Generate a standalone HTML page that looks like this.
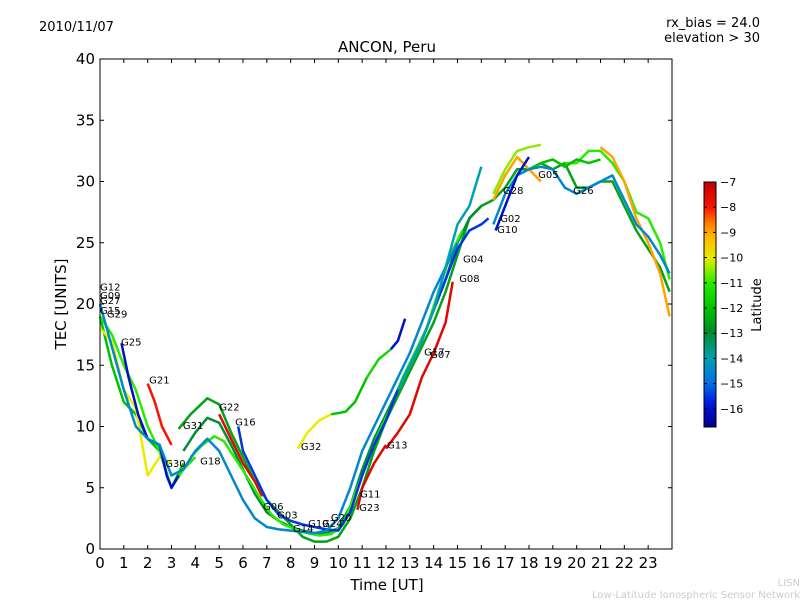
<!DOCTYPE html>
<html><head><meta charset="utf-8"><style>
body{margin:0;background:#fff;font-family:"DejaVu Sans","Liberation Sans",sans-serif;}
svg text{font-family:"DejaVu Sans","Liberation Sans",sans-serif;}
</style></head><body>
<svg id="chart" width="800" height="600" viewBox="0 0 800 600">
<rect width="800" height="600" fill="#fff"/>
<text x="39" y="31" font-size="13">2010/11/07</text>
<text x="760" y="27" font-size="13" text-anchor="end">rx_bias = 24.0</text>
<text x="760" y="42" font-size="13" text-anchor="end">elevation &gt; 30</text>
<text x="387" y="52" font-size="15" text-anchor="middle">ANCON, Peru</text>
<g id="plot"></g>
<g id="axes"></g>
<text x="387" y="590" font-size="15" text-anchor="middle">Time [UT]</text>
<text x="0" y="0" font-size="15" text-anchor="middle" transform="translate(66,304) rotate(-90)">TEC [UNITS]</text>
<defs><linearGradient id="jet" x1="0" y1="0" x2="0" y2="1" id2="g"></linearGradient></defs>
<rect x="704" y="182" width="12" height="245" fill="url(#jet)" stroke="#000"/>
<g id="cbticks"></g>
<text x="0" y="0" font-size="13" text-anchor="middle" transform="translate(761,305) rotate(-90)">Latitude</text>
<text x="800" y="586" font-size="10" fill="#ccc" text-anchor="end">LISN</text>
<text x="800" y="598" font-size="10" fill="#ccc" text-anchor="end">Low-Latitude Ionospheric Sensor Network</text>
</svg>
<script>
const xTicks=[0,1,2,3,4,5,6,7,8,9,10,11,12,13,14,15,16,17,18,19,20,21,22,23];
const yTicks=[0,5,10,15,20,25,30,35,40];
const cbTicks=[-7,-8,-9,-10,-11,-12,-13,-14,-15,-16];
const seriesLat=[-12,-10,-11,-16,-8,-12.5,-13,-11,-7.5,-15.5,-14.5,-10,-12,-11.5,-16,-14,-7.5,-10.5,-9,-11,-9,-12,-14.5,-16,-7.5];
const seriesT=[
[0,0.5,1,1.5,2,2.5,3,3.5],
[0,0.5,1,1.5,2,2.5,3],
[0,0.5,1,1.5,2,2.5,3,3.5,4],
[0.9,1.2,1.6,2,2.5,2.8,3,3.3],
[2,2.3,2.6,3],
[3.3,3.8,4.5,5,5.5,6,6.5,7,7.5,8,8.5,9,9.5,10,10.5,11,11.5,12,12.5,13,13.5,14,14.5,15,15.5,16,16.5,17,17.5,18,18.5,19,19.5,20,20.5,21,21.5,22,22.5,23,23.5,23.9],
[3.5,4,4.5,5,5.5,6,6.5,7,7.5,8,8.5,9,9.5,10,10.5,11,11.5,12,12.5,13,13.5,14,14.5,15,15.5,16],
[3.8,4.3,4.8,5.2,5.7,6.2,6.7,7.2,7.7,8.2,8.7,9.2,9.7,10.2,10.7,11.2,11.7,12.2,12.7,13.2,13.7,14.2,14.7,15.2],
[5,5.5,6,6.5,6.8],
[5.8,6,6.5,7,7.5,8,8.5,9,9.5,10,10.5,11,11.5,12,12.5,13,13.5,14,14.5,15,15.5,16,16.3],
[0,0.5,1,1.5,2,2.5,3,3.5,4,4.5,5,5.5,6,6.5,7,7.5,8,8.5,9,9.5,10,10.5,11,11.5,12,12.5,13,13.5,14,14.5,15],
[8.3,8.7,9.2,9.7],
[9.7,10.3,10.7,11.2],
[11.2,11.7,12.2],
[12.2,12.5,12.8],
[12.5,13,13.5,14,14.5,15,15.5,16],
[12,12.5,13,13.5,14,14.5,14.8],
[16.5,17,17.5,18,18.5],
[16.5,17,17.5,18,18.5],
[19.5,20,20.5,21,21.5,22,22.5,23,23.5,23.9],
[21,21.5,22,22.5,23,23.5,23.9],
[18,18.5,19,19.5,20,20.5,21],
[16.5,17,17.5,18,18.5,19,19.5,20,20.5,21,21.5,22,22.5,23,23.5,23.9],
[16.6,17,17.5,18],
[10.8,11,11.5,12]
];
const seriesV=[
[19,15,12,11,9,8,5,7],
[18,17,13,11.5,6,7.5,7],
[19,17.5,15,13,10,8,5,6.5,7.5],
[16.8,14,11,9,8.5,6,5,6],
[13.5,12,10,8.5],
[9.8,11,12.3,11.8,9.5,7.5,5.5,4,3,2,1,0.6,0.6,1,2.5,5,8,10.5,12.5,14.5,16.5,18.5,21,24,27,28,28.5,29.5,31,31,31.5,31,31.5,29.5,29.5,30,30,28,26,24.5,23,21],
[8,9.5,10.7,10.3,8.5,6.5,4.5,3,2.3,1.8,1.5,1.3,1.3,1.7,3.5,6.5,9,11,13,15,17,19.5,22,25,27,28],
[7.5,8.5,9.2,8.8,7.3,5.8,4.2,2.8,2,1.6,1.3,1.1,1.2,2,4.5,7,9.5,11.5,14,16,18,21,24,26],
[11,9,7,5.5,4.3],
[10,8,6,4,2.8,2.3,2,1.8,1.6,1.5,3,6,8.5,10.5,13,15,17,19.5,22,24.5,26,26.5,27],
[20,16.5,13,10,9,8.5,6,6.5,8,9,8,6,4,2.5,1.8,1.6,1.5,1.4,1.3,1.5,2.5,5,8,10,12,14,16,18.5,21,23,25],
[8.2,9.5,10.5,11],
[11,11.2,12,14],
[14,15.5,16.3],
[16.3,17,18.8],
[13,15,17,19.5,23,26.5,28,31.2],
[8.2,9.5,11,14,16,18.5,21.8],
[29,31,32.5,32.8,33],
[28.5,30.5,32,31,30],
[31.5,31.5,32.5,32.5,31.5,30,27.5,27,25,22],
[32.8,32,30,27,25,22.5,19],
[31,31.5,31.8,31.2,31.8,31.5,31.8],
[26.5,29,30.5,31,31.2,31,29.5,29,29.5,30,30.5,28.5,26.5,25.5,24,22.5],
[26,28,30.5,32],
[3.2,5,7,8.5]
];
const labelNames=["G12","G09","G27","G15","G29","G25","G21","G22","G16","G31","G30","G18","G32","G06","G03","G14","G19","G24","G20","G11","G23","G13","G17","G07","G04","G08","G02","G10","G28","G05","G26"];
const labelT=[0,0,0,0,0.29,0.88,2.06,5.0,5.67,3.48,2.73,4.2,8.43,6.84,7.43,8.1,8.73,9.32,9.69,10.91,10.87,12.04,13.6,13.85,15.23,15.07,16.79,16.66,16.91,18.38,19.85];
const labelV=[21.1,20.4,20.0,19.2,18.9,16.6,13.5,11.3,10.1,9.8,6.7,6.9,8.1,3.2,2.5,1.4,1.8,1.8,2.3,4.2,3.1,8.2,15.8,15.6,23.4,21.8,26.7,25.8,29.0,30.3,29.0];

const NS='http://www.w3.org/2000/svg';
const X0=100,X1=672,Y0=549,Y1=59;
const xs=t=>X0+t*(X1-X0)/24;
const ys=v=>Y0-v*(Y0-Y1)/40;
const cbY=l=>182+(-7-l)*25.2;
const cmap=[[-7,[190,0,0]],[-8,[250,20,0]],[-8.6,[255,120,0]],[-9.2,[255,185,0]],[-10,[235,235,0]],[-11,[40,235,0]],[-12,[0,195,0]],[-12.9,[0,140,40]],[-14,[0,160,180]],[-15,[0,110,230]],[-15.8,[0,20,220]],[-16.7,[0,0,140]]];
function jet(lat){
 if(lat>=cmap[0][0])return `rgb(${cmap[0][1]})`;
 for(let i=0;i<cmap.length-1;i++){const a=cmap[i],b=cmap[i+1];
  if(lat<=a[0]&&lat>=b[0]){const f=(a[0]-lat)/(a[0]-b[0]);
   return `rgb(${a[1].map((c,k)=>Math.round(c+(b[1][k]-c)*f)).join(',')})`;}}
 return `rgb(${cmap[cmap.length-1][1]})`;}
function mk(tag,attrs,parent){const e=document.createElementNS(NS,tag);for(const k in attrs)e.setAttribute(k,attrs[k]);parent.appendChild(e);return e;}
const grad=document.getElementById('jet');
cmap.forEach(s=>mk('stop',{offset:((-7-s[0])/9.7).toFixed(3),'stop-color':`rgb(${s[1]})`},grad));
const plot=document.getElementById('plot'),axes=document.getElementById('axes'),cb=document.getElementById('cbticks');
seriesT.forEach((ts,i)=>{
 const pts=ts.map((t,j)=>xs(t).toFixed(1)+','+ys(seriesV[i][j]).toFixed(1)).join(' ');
 const p=mk('polyline',{points:pts,fill:'none',stroke:jet(seriesLat[i]),'stroke-width':2.5,'stroke-linejoin':'round'},plot);
 
 
});
labelNames.forEach((n,i)=>{
 const t=mk('text',{x:xs(labelT[i]).toFixed(1),y:ys(labelV[i]).toFixed(1),'font-size':10},plot);
 t.textContent=n;
 
 
});
mk('rect',{x:X0,y:Y1,width:X1-X0,height:Y0-Y1,fill:'none',stroke:'#000','stroke-width':1},axes);
xTicks.forEach(t=>{const x=xs(t);
 mk('line',{x1:x,y1:Y0,x2:x,y2:Y0-4,stroke:'#000'},axes);
 mk('line',{x1:x,y1:Y1,x2:x,y2:Y1+4,stroke:'#000'},axes);
 const tx=mk('text',{x:x,y:Y0+19,'font-size':15,'text-anchor':'middle'},axes);tx.textContent=t;
 
 
});
yTicks.forEach(v=>{const y=ys(v);
 mk('line',{x1:X0,y1:y,x2:X0+4,y2:y,stroke:'#000'},axes);
 mk('line',{x1:X1,y1:y,x2:X1-4,y2:y,stroke:'#000'},axes);
 const tx=mk('text',{x:X0-5,y:y+5,'font-size':15,'text-anchor':'end'},axes);tx.textContent=v;
 
 
});
cbTicks.forEach(l=>{const y=cbY(l);
 mk('line',{x1:704,y1:y,x2:707,y2:y,stroke:'#000'},cb);
 mk('line',{x1:716,y1:y,x2:713,y2:y,stroke:'#000'},cb);
 const tx=mk('text',{x:720,y:y+4,'font-size':11},cb);tx.textContent='\u2212'+Math.abs(l);
 
 
});
</script>
</body></html>
